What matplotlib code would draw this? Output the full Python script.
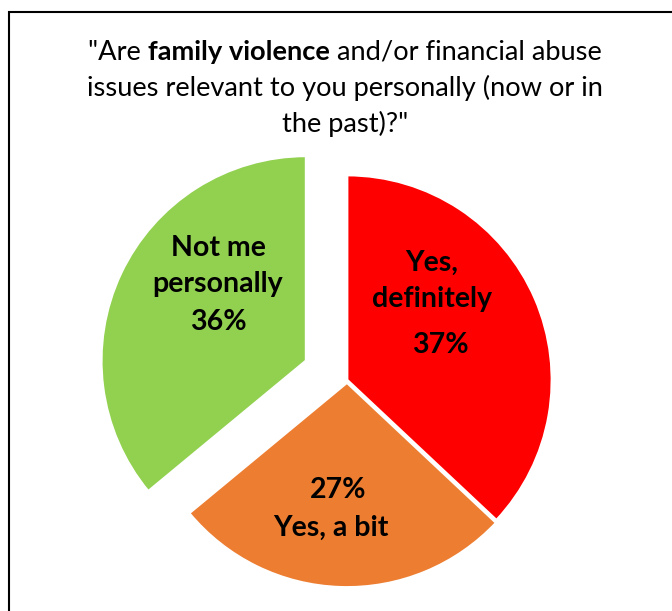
import matplotlib.pyplot as plt
from matplotlib.patches import Rectangle

labels = ["Yes,\ndefinitely", "Yes, a bit", "Not me\npersonally"]
values = [37, 27, 36]
colors = ["#FF0000", "#ED7D31", "#92D050"]
explode_frac = [0, 0.012, 0.22]

plt.rcParams["font.family"] = ["Lato", "DejaVu Sans"]

W, H = 672, 611
R = 205
fig = plt.figure(figsize=(W / 100, H / 100), dpi=100, facecolor="white")
ax = fig.add_axes([0, 0, 1, 1])

# frame (only left and top edges visible in the crop)
fig.patches.append(Rectangle((9 / W, -0.1), 1.2, (H - 12) / H + 0.1, transform=fig.transFigure,
                             fill=False, edgecolor="black", linewidth=1.5, figure=fig))

# explode in pie() is in data units, so scale by radius
ax.pie(values, colors=colors, explode=[e * R for e in explode_frac], startangle=90,
       counterclock=False, center=(347, H - 380), radius=R, frame=True,
       wedgeprops=dict(edgecolor="white", linewidth=2))
ax.set_xlim(0, W)
ax.set_ylim(0, H)
ax.set_aspect("equal")
ax.axis("off")

# title with bold phrase
fs_title = 19.6
renderer = fig.canvas.get_renderer()
parts = [('"Are ', "normal"), ("family violence", "bold"), (" and/or financial abuse", "normal")]
widths = []
for s, w in parts:
    t = fig.text(0, 0, s, fontsize=fs_title, fontweight=w)
    widths.append(t.get_window_extent(renderer).width)
    t.remove()
x = 345 - sum(widths) / 2
for (s, w), wd in zip(parts, widths):
    fig.text(x / W, 1 - 52 / H, s, fontsize=fs_title, fontweight=w, va="center", ha="left")
    x += wd
fig.text(345 / W, 1 - 88 / H, "issues relevant to you personally (now or in",
         fontsize=fs_title, va="center", ha="center")
fig.text(345 / W, 1 - 124 / H, 'the past)?"', fontsize=fs_title, va="center", ha="center")

lab_kw = dict(fontsize=20.5, fontweight="bold", ha="center", va="center", linespacing=1.5)
ax.text(432, H - 281, labels[0], **lab_kw)
ax.text(440, H - 345, f"{values[0]}%", **lab_kw)
ax.text(338, H - 490, f"{values[1]}%", **lab_kw)
ax.text(331, H - 528, labels[1], **lab_kw)
ax.text(218, H - 266, labels[2], **lab_kw)
ax.text(218, H - 322, f"{values[2]}%", **lab_kw)

fig.savefig("out.png", dpi=100, facecolor="white")
